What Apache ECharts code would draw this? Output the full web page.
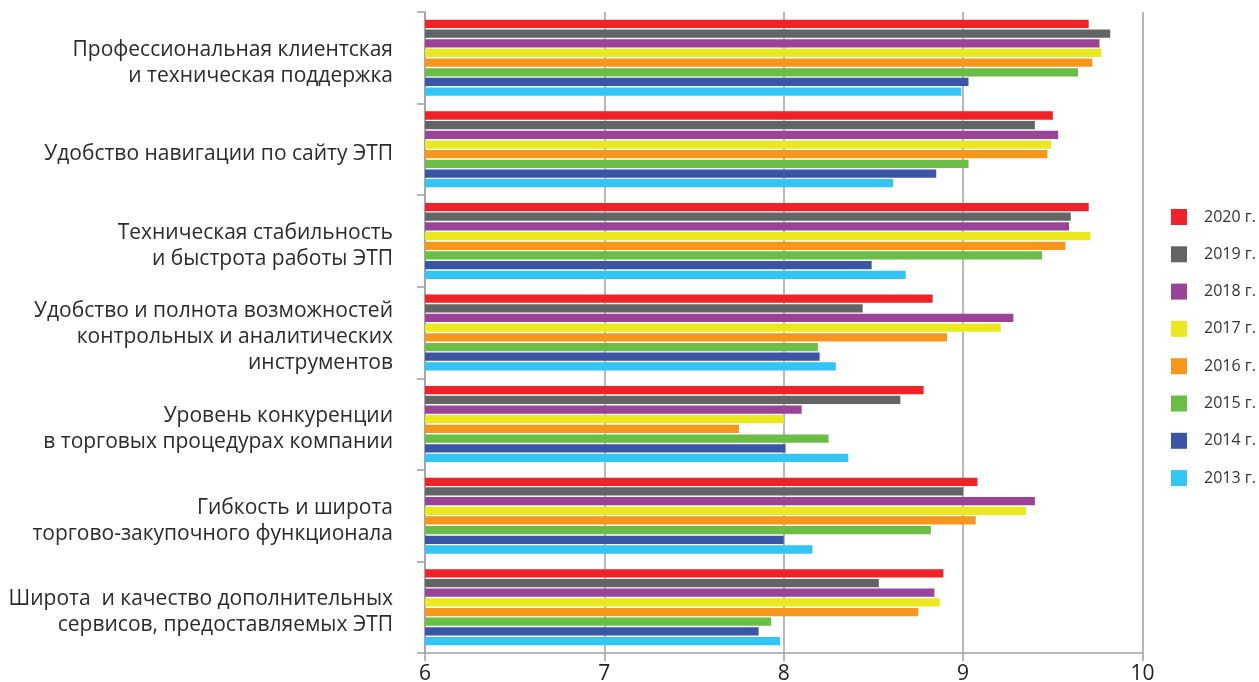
<!DOCTYPE html>
<html>
<head>
<meta charset="utf-8">
<script src="https://cdn.jsdelivr.net/npm/echarts@6/dist/echarts.min.js"></script>
<style>
html,body{margin:0;padding:0;background:#fff;}
#chart{width:1259px;height:682px;}
</style>
</head>
<body>
<div id="chart"></div>
<script>
const categories = [
  "Профессиональная клиентская\nи техническая поддержка",
  "Удобство навигации по сайту ЭТП",
  "Техническая стабильность\nи быстрота работы ЭТП",
  "Удобство и полнота возможностей\nконтрольных и аналитических\nинструментов",
  "Уровень конкуренции\nв торговых процедурах компании",
  "Гибкость и широта\nторгово-закупочного функционала",
  "Широта  и качество дополнительных\nсервисов, предоставляемых ЭТП"
];
const seriesNames = ["2020 г.", "2019 г.", "2018 г.", "2017 г.", "2016 г.", "2015 г.", "2014 г.", "2013 г."];
const colors = ["#ee2227", "#636466", "#9b4497", "#ece81f", "#f7961d", "#6abd45", "#3a55a5", "#33c5f3"];
const v2020 = [9.70, 9.50, 9.70, 8.83, 8.78, 9.08, 8.89];
const v2019 = [9.82, 9.40, 9.60, 8.44, 8.65, 9.00, 8.53];
const v2018 = [9.76, 9.53, 9.59, 9.28, 8.10, 9.40, 8.84];
const v2017 = [9.77, 9.49, 9.71, 9.21, 8.00, 9.35, 8.87];
const v2016 = [9.72, 9.47, 9.57, 8.91, 7.75, 9.07, 8.75];
const v2015 = [9.64, 9.03, 9.44, 8.19, 8.25, 8.82, 7.93];
const v2014 = [9.03, 8.85, 8.49, 8.20, 8.01, 8.00, 7.86];
const v2013 = [8.99, 8.61, 8.68, 8.29, 8.36, 8.16, 7.98];
const xTicks = [6, 7, 8, 9, 10];

const allValues = [v2020, v2019, v2018, v2017, v2016, v2015, v2014, v2013];
const chart = echarts.init(document.getElementById('chart'));
const series = allValues.map((vals, i) => ({
  name: seriesNames[i],
  type: 'bar',
  data: vals,
  itemStyle: { color: colors[i] },
  barCategoryGap: '17%',
  barGap: '17%'
}));
chart.setOption({
  animation: false,
  backgroundColor: '#fff',
  textStyle: { fontFamily: 'Open Sans' },
  grid: { left: 425, right: 116.5, top: 12, bottom: 29, containLabel: false, outerBoundsMode: 'none' },
  legend: {
    orient: 'vertical',
    left: 1171,
    top: 209,
    padding: 0,
    itemWidth: 16,
    itemHeight: 16,
    itemGap: 21.3,
    icon: 'rect',
    data: seriesNames,
    textStyle: { fontSize: 16, color: '#333', fontFamily: 'Open Sans', padding: [0, 0, 0, 12] }
  },
  xAxis: {
    type: 'value',
    min: xTicks[0],
    max: xTicks[xTicks.length - 1],
    interval: 1,
    axisLine: { show: true, lineStyle: { color: '#a0a0a0', width: 1.5 } },
    axisTick: { show: true, length: 8, lineStyle: { color: '#a0a0a0', width: 1.5 } },
    splitLine: { show: true, lineStyle: { color: '#a0a0a0', width: 1.5 } },
    axisLabel: { fontSize: 21, color: '#222', margin: 11, fontFamily: 'Open Sans' }
  },
  yAxis: {
    type: 'category',
    inverse: true,
    data: categories,
    axisLine: { show: true, lineStyle: { color: '#a0a0a0', width: 1.5 } },
    axisTick: { show: true, length: 8, lineStyle: { color: '#a0a0a0', width: 1.5 } },
    axisLabel: {
      margin: 32,
      align: 'right',
      formatter: function (v) {
        return '{sp| }\n' + v.split('\n').map(function (l) { return '{t|' + l + '}'; }).join('\n');
      },
      rich: {
        sp: { fontSize: 1, lineHeight: 10 },
        t: { fontSize: 21, lineHeight: 26, color: '#2b2b2b', fontFamily: 'Open Sans', align: 'right' }
      }
    }
  },
  series: series
});
</script>
</body>
</html>
